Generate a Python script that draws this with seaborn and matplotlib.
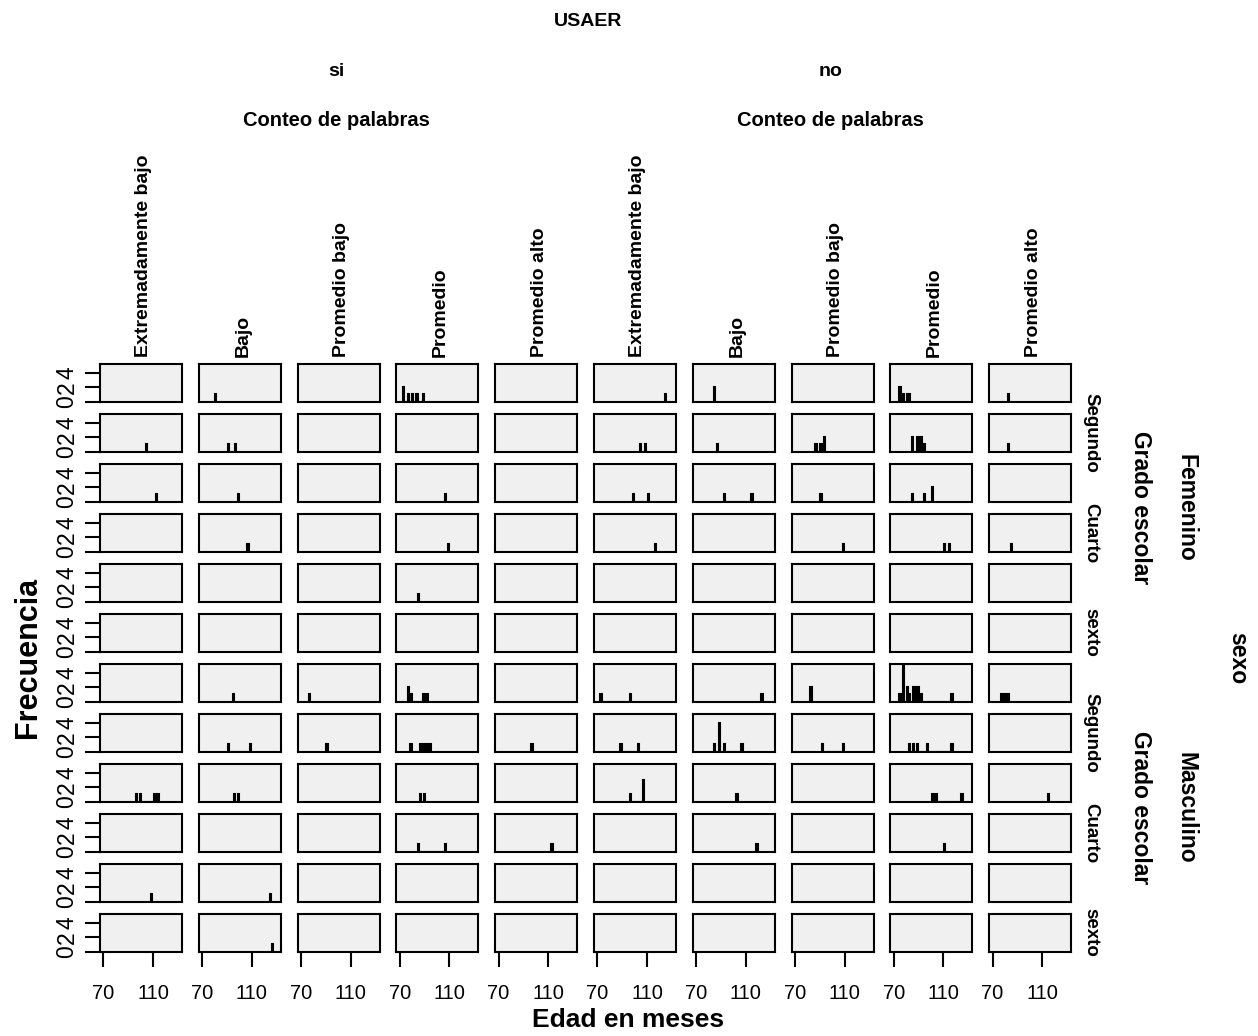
import numpy as np
import pandas as pd
import matplotlib
matplotlib.use("Agg")
import matplotlib.pyplot as plt
import seaborn as sns

# ---- factor levels -------------------------------------------------------
usaer_levels = ["si", "no"]
conteo_levels = ["Extremadamente bajo", "Bajo", "Promedio bajo", "Promedio", "Promedio alto"]
sexo_levels = ["Femenino", "Masculino"]
grado_levels = ["Primero", "Segundo", "Tercero", "Cuarto", "Quinto", "sexto"]
grado_labels_shown = ["Segundo", "Cuarto", "sexto"]
x_ticks = [70, 110]
y_ticks = [0, 2, 4]

# ---- ages in months, one list per (sexo, grado) row ------------------------
# row order: Femenino Primero..sexto, then Masculino Primero..sexto
si_extremadamente_bajo = [[], [105], [113], [], [], [],
                          [], [], [97, 100, 111, 114], [], [109], []]
si_bajo = [[81], [91, 97], [99], [107], [], [],
           [95], [91, 109], [96, 99], [], [125], [127]]
si_promedio_bajo = [[], [], [], [], [], [],
                    [77], [91], [], [], [], []]
si_promedio = [[73, 73, 77, 80, 84, 89], [], [107], [109], [85], [],
               [77, 77, 79, 89, 92], [79, 87, 89, 92, 95], [87, 90], [85, 107], [], []]
si_promedio_alto = [[], [], [], [], [], [],
                    [], [97], [], [113], [], []]
no_extremadamente_bajo = [[125], [105, 109], [99, 111], [117], [], [],
                          [73, 97], [89, 103], [97, 107, 107, 107], [], [], []]
no_bajo = [[85, 85], [87], [93, 115], [], [], [],
           [123], [85, 89, 89, 89, 89, 93, 107], [103], [119], [], []]
no_promedio_bajo = [[], [87, 91, 94, 94], [91], [109], [], [],
                    [83, 83], [92, 109], [], [], [], []]
no_promedio = [[75, 75, 78, 81, 83], [85, 85, 89, 89, 92, 92, 95], [85, 95, 101, 101],
               [111, 115], [], [],
               [75, 78, 78, 78, 78, 78, 81, 81, 83, 86, 86, 88, 88, 90, 90, 92, 117],
               [83, 86, 89, 97, 117], [101, 104, 125], [111], [], []]
no_promedio_alto = [[83], [83], [], [85], [], [],
                    [77, 80, 83], [], [115], [], [], []]

column_lists = [si_extremadamente_bajo, si_bajo, si_promedio_bajo, si_promedio, si_promedio_alto,
                no_extremadamente_bajo, no_bajo, no_promedio_bajo, no_promedio, no_promedio_alto]

# long-form table
records = []
for ci, rows in enumerate(column_lists):
    usaer = usaer_levels[ci // 5]
    conteo = conteo_levels[ci % 5]
    for ri, ages in enumerate(rows):
        sexo = sexo_levels[ri // 6]
        grado = grado_levels[ri % 6]
        for a in ages:
            records.append(dict(USAER=usaer, conteo=conteo, sexo=sexo, grado=grado, edad=a))
df = pd.DataFrame(records)

# ---- styling -------------------------------------------------------------
sns.set_style("white")
plt.rcParams["font.family"] = ["Liberation Sans", "DejaVu Sans"]
plt.rcParams["text.color"] = "black"
plt.rcParams["xtick.color"] = "black"
plt.rcParams["ytick.color"] = "black"
plt.rcParams["axes.labelcolor"] = "black"

W, H = 1258, 1036
fig = plt.figure(figsize=(W / 100, H / 100), dpi=100)


def fx(px):
    return px / W


def fy(py):
    return 1 - py / H


col_left0, col_pitch, panel_w = 100.0, 98.8, 82.0
row_top0, row_pitch, panel_h = 364.0, 50.0, 37.7
xlim = (67.3, 133.4)
ylim = (0, 5.2)

bar_face = "#5e5e3c"

for ci in range(10):
    usaer = usaer_levels[ci // 5]
    conteo = conteo_levels[ci % 5]
    left = col_left0 + ci * col_pitch
    for ri in range(12):
        sexo = sexo_levels[ri // 6]
        grado = grado_levels[ri % 6]
        top = row_top0 + ri * row_pitch
        ax = fig.add_axes([fx(left), fy(top + panel_h), panel_w / W, panel_h / H])
        sub = df[(df.USAER == usaer) & (df.conteo == conteo) &
                 (df.sexo == sexo) & (df.grado == grado)]
        if len(sub):
            sns.histplot(data=sub, x="edad", discrete=True, ax=ax,
                         color=bar_face, edgecolor="black", linewidth=1.5, alpha=1)
        ax.set_facecolor("#f0f0f0")
        ax.set_xlim(*xlim)
        ax.set_ylim(*ylim)
        ax.set_xlabel("")
        ax.set_ylabel("")
        for s in ax.spines.values():
            s.set_color("black")
            s.set_linewidth(1.5)
        if ci == 0:
            ax.set_yticks(y_ticks)
            ax.set_yticklabels([str(v) for v in y_ticks], rotation=90, va="center")
            ax.tick_params(axis="y", length=10.5, width=1.5, pad=5, labelsize=16.5, left=True)
        else:
            ax.set_yticks([])
        if ri == 11:
            ax.set_xticks(x_ticks)
            ax.set_xticklabels([str(v) for v in x_ticks])
            ax.tick_params(axis="x", length=10.5, width=1.5, pad=13, labelsize=14.5, bottom=True)
        else:
            ax.set_xticks([])

# ---- header texts --------------------------------------------------------
fig.text(fx(588), fy(21), "USAER", ha="center", va="center", fontsize=14, fontweight="bold")
for gi, name in enumerate(usaer_levels):
    cx = col_left0 + (gi * 5 + 2) * col_pitch + panel_w / 2
    fig.text(fx(cx - 2), fy(72), name, ha="center", va="center", fontsize=14, fontweight="bold")
    fig.text(fx(cx - 2), fy(120), "Conteo de palabras", ha="center", va="center",
             fontsize=14.5, fontweight="bold")
for ci in range(10):
    cx = col_left0 + ci * col_pitch + panel_w / 2
    fig.text(fx(cx + 3), fy(357), conteo_levels[ci % 5], rotation=90, ha="center", va="bottom",
             fontsize=14, fontweight="bold")

# ---- right-hand strip texts ----------------------------------------------
for si in range(2):
    for gi, g in enumerate(grado_levels):
        if g in grado_labels_shown:
            ri = si * 6 + gi
            cy = row_top0 + ri * row_pitch + panel_h / 2
            fig.text(fx(1091), fy(cy), g, rotation=-90, ha="center", va="center",
                     fontsize=13.5, fontweight="bold")
    block_c = row_top0 + si * 6 * row_pitch + (5 * row_pitch + panel_h) / 2
    fig.text(fx(1141), fy(block_c), "Grado escolar", rotation=-90, ha="center", va="center",
             fontsize=16.5, fontweight="bold")
    fig.text(fx(1186), fy(block_c), sexo_levels[si], rotation=-90, ha="center", va="center",
             fontsize=16.5, fontweight="bold")
mid = row_top0 + (11 * row_pitch + panel_h) / 2
fig.text(fx(1238), fy(mid), "sexo", rotation=-90, ha="center", va="center",
         fontsize=16.5, fontweight="bold")

# ---- axis titles ---------------------------------------------------------
fig.text(fx(28), fy(mid), "Frecuencia", rotation=90, ha="center", va="center",
         fontsize=22, fontweight="bold")
fig.text(fx(628), fy(1020), "Edad en meses", ha="center", va="center",
         fontsize=19, fontweight="bold")

fig.savefig("out.png", dpi=100)
